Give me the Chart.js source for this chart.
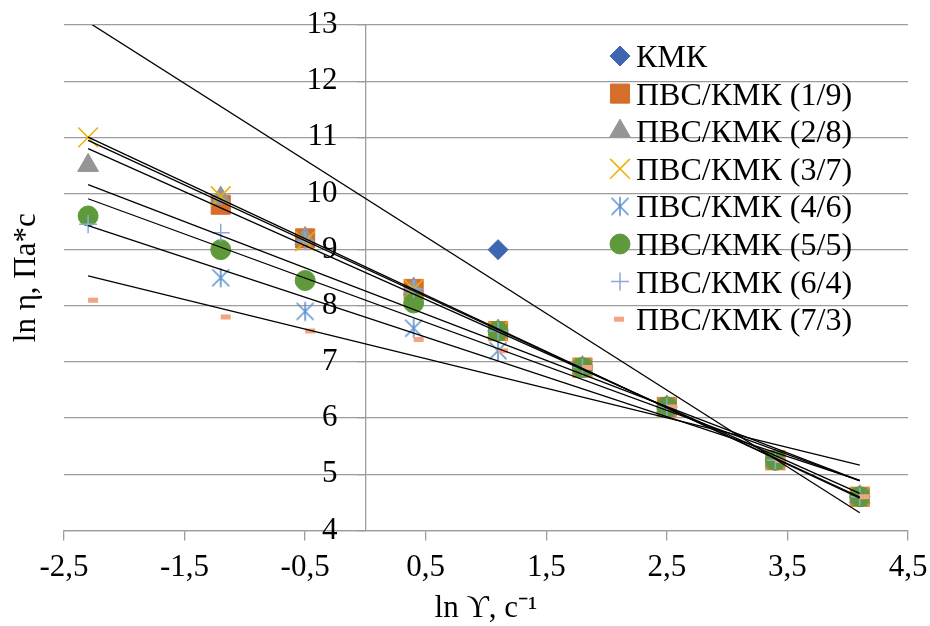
<!DOCTYPE html>
<html>
<head>
<meta charset="utf-8">
<script src="https://cdn.jsdelivr.net/npm/chart.js@4.4.1/dist/chart.umd.min.js"></script>
<style>
  html, body { margin: 0; padding: 0; background: #fff; }
</style>
</head>
<body>
<canvas id="flowChart" width="930" height="626"></canvas>
<script>
// ln of shear rate, one value per column of measurements
var xValues = [-2.3, -1.2, -0.5, 0.4, 1.1, 1.8, 2.5, 3.4, 4.1];

var seriesNames = ['КМК', 'ПВС/КМК (1/9)', 'ПВС/КМК (2/8)', 'ПВС/КМК (3/7)',
  'ПВС/КМК (4/6)', 'ПВС/КМК (5/5)', 'ПВС/КМК (6/4)', 'ПВС/КМК (7/3)'];

// ln of viscosity, null where there is no measurement
var kmk   = [null, null, null, null, 9.0,  6.9, 6.2, 5.25, 4.6];
var pvs19 = [null, 9.8,  9.2,  8.3,  7.55, 6.9, 6.2, 5.25, 4.6];
var pvs28 = [10.5, 9.92, 9.2,  8.3,  7.55, 6.9, 6.2, 5.25, 4.6];
var pvs37 = [11.0, 9.95, 9.15, 8.3,  7.55, 6.9, 6.2, 5.25, 4.6];
var pvs46 = [null, 8.5,  7.9,  7.6,  7.2,  6.9, 6.2, 5.25, 4.6];
var pvs55 = [9.6,  9.0,  8.45, 8.05, 7.55, 6.9, 6.2, 5.25, 4.6];
var pvs64 = [9.45, 9.3,  9.15, 8.3,  7.55, 6.9, 6.2, 5.25, 4.6];
var pvs73 = [8.1,  7.8,  7.55, 7.4,  7.2,  6.9, 6.2, 5.25, 4.6];

var xTicks = [-2.5, -1.5, -0.5, 0.5, 1.5, 2.5, 3.5, 4.5];
var yTicks = [4, 5, 6, 7, 8, 9, 10, 11, 12, 13];

var FONT = '"Liberation Serif", "Times New Roman", serif';
var FSIZE = 31;
var GRID = '#9c9c9c';

// excel-like asterisk: an X with a vertical bar
function starMark(color) {
  var c = document.createElement('canvas');
  c.width = 22; c.height = 22;
  var g = c.getContext('2d');
  g.strokeStyle = color;
  g.lineWidth = 1.6;
  g.beginPath();
  g.moveTo(2.5, 2.5); g.lineTo(19.5, 19.5);
  g.moveTo(19.5, 2.5); g.lineTo(2.5, 19.5);
  g.moveTo(11, 1.5); g.lineTo(11, 20.5);
  g.stroke();
  return c;
}

var marks = [
  { color: '#3F66B0', style: 'rectRot',  radius: 10,   width: 1 },
  { color: '#D66E2B', style: 'rect',     radius: 13.5, width: 1 },
  { color: '#959595', style: 'triangle', radius: 12,   width: 1 },
  { color: '#EDB000', style: 'crossRot', radius: 14,   width: 1.5 },
  { color: '#5B92CF', style: starMark('#5B92CF'), radius: 11, width: 1 },
  { color: '#5E9A3C', style: 'circle',   radius: 10,   width: 1 },
  { color: '#8EA7DC', style: 'cross',    radius: 9,    width: 1.5 },
  { color: '#F4A384', style: 'dash',     radius: 10,   width: 5 }
];

var allSeries = [kmk, pvs19, pvs28, pvs37, pvs46, pvs55, pvs64, pvs73];

function toPoints(ys) {
  var pts = [];
  for (var i = 0; i < xValues.length; i++) {
    if (ys[i] !== null) pts.push({ x: xValues[i], y: ys[i] });
  }
  return pts;
}

// least squares line, drawn over the full measured range
function trend(pts) {
  var n = pts.length, sx = 0, sy = 0, sxx = 0, sxy = 0;
  pts.forEach(function (p) { sx += p.x; sy += p.y; sxx += p.x * p.x; sxy += p.x * p.y; });
  var k = (n * sxy - sx * sy) / (n * sxx - sx * sx);
  var b = (sy - k * sx) / n;
  var x0 = xValues[0], x1 = xValues[xValues.length - 1];
  return [{ x: x0, y: k * x0 + b }, { x: x1, y: k * x1 + b }];
}

var datasets = [];
allSeries.forEach(function (ys, i) {
  var m = marks[i];
  var pts = toPoints(ys);
  datasets.push({
    label: seriesNames[i],
    data: pts,
    showLine: false,
    pointStyle: m.style,
    pointRadius: m.radius,
    pointHoverRadius: m.radius,
    pointBorderWidth: m.width,
    backgroundColor: m.color,
    borderColor: m.color,
    order: 8 - i
  });
  datasets.push({
    label: '',
    data: trend(pts),
    showLine: true,
    pointRadius: 0,
    borderColor: '#000',
    borderWidth: 1.3,
    order: 0
  });
});

function fmt(v) { return String(v).replace('.', ','); }

var overlay = {
  id: 'overlay',
  afterDraw: function (chart) {
    var ctx = chart.ctx, area = chart.chartArea;
    var xs = chart.scales.x, ys = chart.scales.y;
    ctx.save();
    ctx.fillStyle = '#000';
    ctx.font = FSIZE + 'px ' + FONT;

    // y tick labels sit left of the axis at x = 0
    ctx.textAlign = 'right';
    ctx.textBaseline = 'middle';
    var ax = xs.getPixelForValue(0);
    yTicks.forEach(function (v) {
      ctx.fillText(fmt(v), ax - 28, ys.getPixelForValue(v));
    });

    // y axis title
    ctx.save();
    ctx.textAlign = 'center';
    ctx.translate(27, (area.top + area.bottom) / 2);
    ctx.rotate(-Math.PI / 2);
    ctx.fillText('ln η, Па*с', 0, 0);
    ctx.restore();

    // legend inside plot
    var lx = area.right - 288, ly = area.top + 31;
    ctx.font = '32px ' + FONT;
    ctx.textAlign = 'left';
    ctx.textBaseline = 'alphabetic';
    seriesNames.forEach(function (name, i) {
      var m = marks[i], y = ly + i * 37.6;
      ctx.fillStyle = m.color;
      ctx.strokeStyle = m.color;
      ctx.lineWidth = m.width;
      Chart.helpers.drawPoint(ctx, { pointStyle: m.style, radius: m.radius, borderWidth: m.width, rotation: 0 },
        m.style === 'dash' ? lx - 6 : lx, y);
      ctx.fillStyle = '#000';
      ctx.fillText(name, lx + 16, y + 11);
    });
    ctx.restore();
  }
};

new Chart('flowChart', {
  type: 'scatter',
  data: { datasets: datasets },
  options: {
    responsive: false,
    animation: false,
    layout: { padding: { left: 64, right: 22, top: 25, bottom: 0 } },
    plugins: { legend: { display: false }, tooltip: { enabled: false } },
    scales: {
      x: {
        type: 'linear',
        min: -2.5,
        max: 4.5,
        afterBuildTicks: function (s) { s.ticks = xTicks.map(function (v) { return { value: v }; }); },
        ticks: {
          autoSkip: false, maxRotation: 0, padding: 0, color: '#000',
          font: { family: FONT, size: FSIZE, lineHeight: 1.75 },
          callback: function (v) { return fmt(v); }
        },
        grid: { drawOnChartArea: false, tickLength: 10, color: GRID, lineWidth: 1.3 },
        border: { color: GRID, width: 1.3 },
        title: {
          display: true, text: 'ln ϒ, с⁻¹', color: '#000',
          font: { family: FONT, size: FSIZE, lineHeight: 1 }, padding: { top: -1.7, bottom: 2 }
        }
      },
      y: {
        type: 'linear',
        position: { x: 0 },
        min: 4,
        max: 13,
        afterBuildTicks: function (s) { s.ticks = yTicks.map(function (v) { return { value: v }; }); },
        ticks: { display: false },
        grid: { color: GRID, lineWidth: 1.3, tickLength: 8 },
        border: { color: GRID, width: 1.3 }
      }
    }
  },
  plugins: [overlay]
});
</script>
</body>
</html>
